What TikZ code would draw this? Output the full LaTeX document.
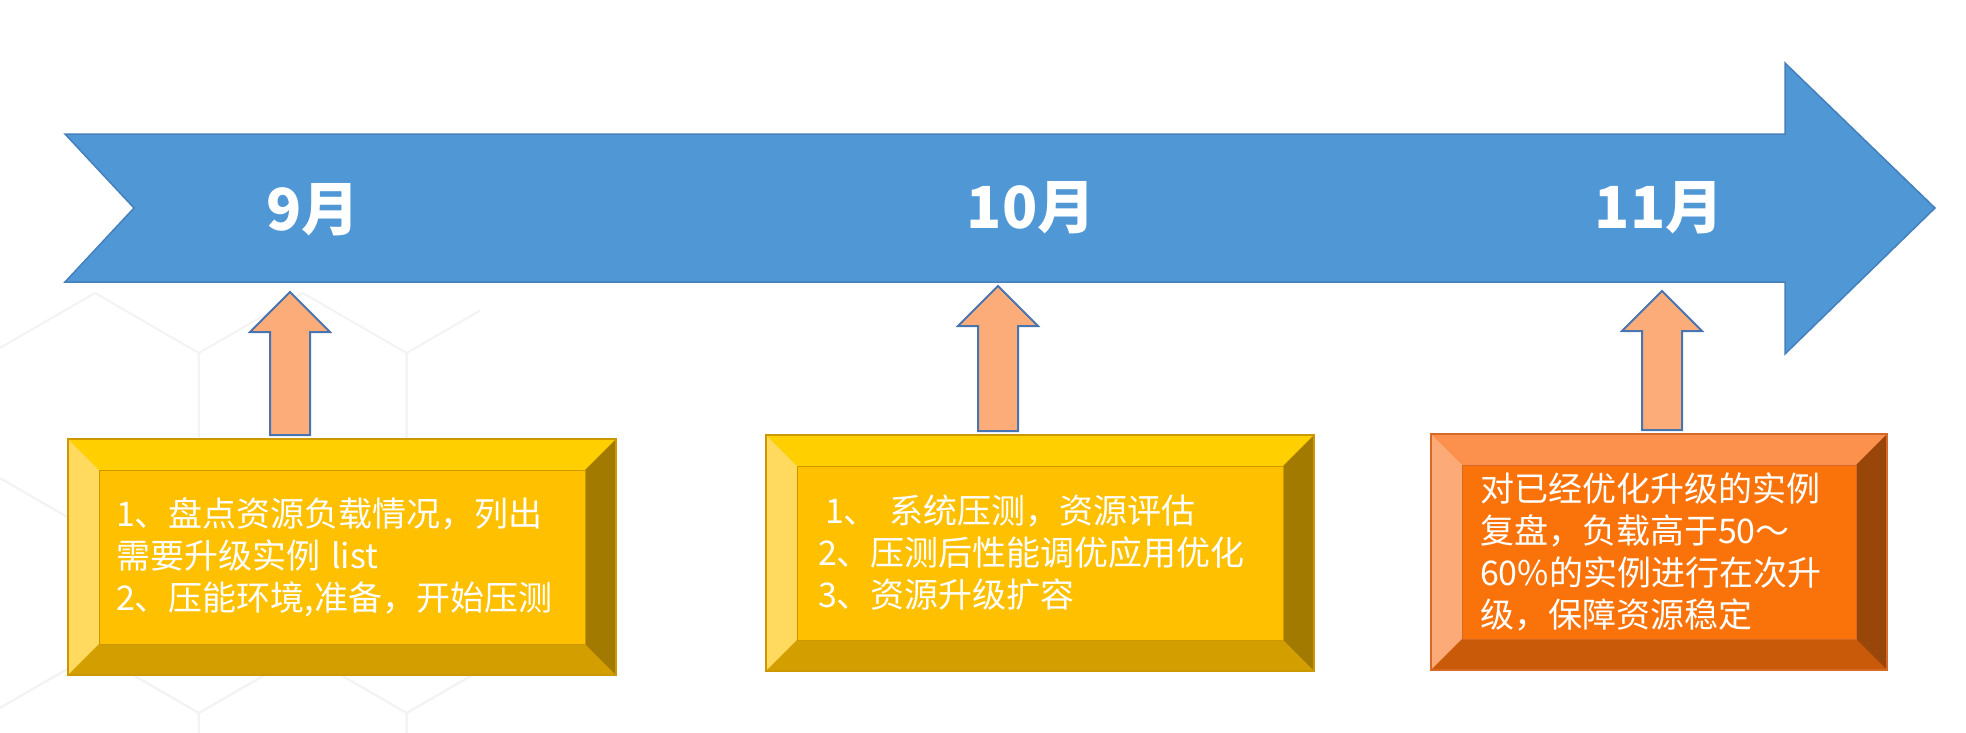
\documentclass[tikz,border=0pt]{standalone}
\usepackage{fontspec}
\setmainfont{Noto Sans CJK SC}
\usetikzlibrary{calc}

\definecolor{barblue}{RGB}{79,151,213}
\definecolor{barline}{RGB}{70,128,188}
\definecolor{peach}{RGB}{251,172,121}
\definecolor{peachline}{RGB}{72,116,176}
\definecolor{hexgray}{RGB}{243,243,243}
% yellow bevel box
\definecolor{yelF}{RGB}{255,192,0}
\definecolor{yelT}{RGB}{255,207,0}
\definecolor{yelL}{RGB}{255,218,94}
\definecolor{yelB}{RGB}{210,158,0}
\definecolor{yelR}{RGB}{163,122,0}
\definecolor{yelE}{RGB}{204,152,0}
% orange bevel box
\definecolor{orgF}{RGB}{250,115,10}
\definecolor{orgT}{RGB}{251,145,76}
\definecolor{orgL}{RGB}{252,170,120}
\definecolor{orgB}{RGB}{200,90,10}
\definecolor{orgR}{RGB}{153,70,10}
\definecolor{orgE}{RGB}{214,104,40}

\tikzset{
  month/.style={text=white, font=\fontsize{58}{60}\selectfont\bfseries},
  stepbox/.style={draw=#1E, fill=#1F, line width=1.5pt, minimum height=236pt,
    inner sep=0pt, outer sep=0pt, text=white, align=left,
    font=\fontsize{34}{42}\selectfont},
  uparrow/.style={fill=peach, draw=peachline, line width=2pt, line join=miter},
  hexline/.style={draw=hexgray, line width=2pt}
}

\begin{document}
\begin{tikzpicture}[x=1pt,y=-1pt]
\useasboundingbox (0,0) rectangle (1966,732);

% faint hexagons in the background
\begin{scope}
  \clip (0,286) rectangle (480,732);
  \foreach \r in {0,...,3}
    \foreach \k in {-1,...,2} {
      \pgfmathsetmacro\hx{95+207.8*\k+mod(\r,2)*103.9}
      \pgfmathsetmacro\hy{413+180*\r}
      \draw[hexline] (\hx,\hy) +(90:120) -- +(30:120) -- +(-30:120)
        -- +(-90:120) -- +(-150:120) -- +(150:120) -- cycle;
    }
\end{scope}

% time line
\fill[barblue, draw=barline, line width=1.5pt] (65,134) -- (1785,134) -- (1785,63)
  -- (1935,208) -- (1785,354) -- (1785,282) -- (65,282) -- (134,208) -- cycle;

\node[month] (sep) at (313,210) {9月};
\node[month] (oct) at (1031,208) {10月};
\node[month] (nov) at (1659,208) {11月};

% steps
\node[stepbox=yel, minimum width=548pt, text width=452pt] (sepbox) at (342,557)
  {1、盘点资源负载情况，列出\\需要升级实例 list\\2、压能环境,准备，开始压测};
\node[stepbox=yel, minimum width=548pt, text width=444pt] (octbox) at (1040,553)
  {\hspace*{7pt}1、\ 系统压测，资源评估\\2、压测后性能调优应用优化\\3、资源升级扩容};
\node[stepbox=org, minimum width=456pt, text width=358pt] (novbox) at (1659,552)
  {对已经优化升级的实例\\复盘，负载高于50～\\60\%的实例进行在次升\\级，保障资源稳定};

\foreach \b/\col in {sepbox/yel, octbox/yel, novbox/org} {
  \fill[fill=\col T] (\b.north west) -- (\b.north east) -- ($(\b.north east)+(-31,31)$)
    -- ($(\b.north west)+(31,31)$) -- cycle;
  \fill[fill=\col L] (\b.north west) -- ($(\b.north west)+(31,31)$)
    -- ($(\b.south west)+(31,-31)$) -- (\b.south west) -- cycle;
  \fill[fill=\col B] (\b.south west) -- ($(\b.south west)+(31,-31)$)
    -- ($(\b.south east)+(-31,-31)$) -- (\b.south east) -- cycle;
  \fill[fill=\col R] (\b.north east) -- ($(\b.north east)+(-31,31)$)
    -- ($(\b.south east)+(-31,-31)$) -- (\b.south east) -- cycle;
  \draw[draw=\col E, line width=1pt] ($(\b.north west)+(31,31)$) rectangle ($(\b.south east)+(-31,-31)$);
  \draw[draw=\col E, line width=1.5pt] (\b.north west) rectangle (\b.south east);
}

% arrows up to the time line
\coordinate (septip) at (290,292);
\coordinate (octtip) at (998,286);
\coordinate (novtip) at (1662,291);

\foreach \b/\t in {sepbox/septip, octbox/octtip, novbox/novtip}
  \draw[uparrow] ($(\t |- \b.north)+(-20,-4)$) -- ($(\t)+(-20,40)$) -- ($(\t)+(-40,40)$)
    -- (\t) -- ($(\t)+(40,40)$) -- ($(\t)+(20,40)$) -- ($(\t |- \b.north)+(20,-4)$) -- cycle;
\end{tikzpicture}
\end{document}
